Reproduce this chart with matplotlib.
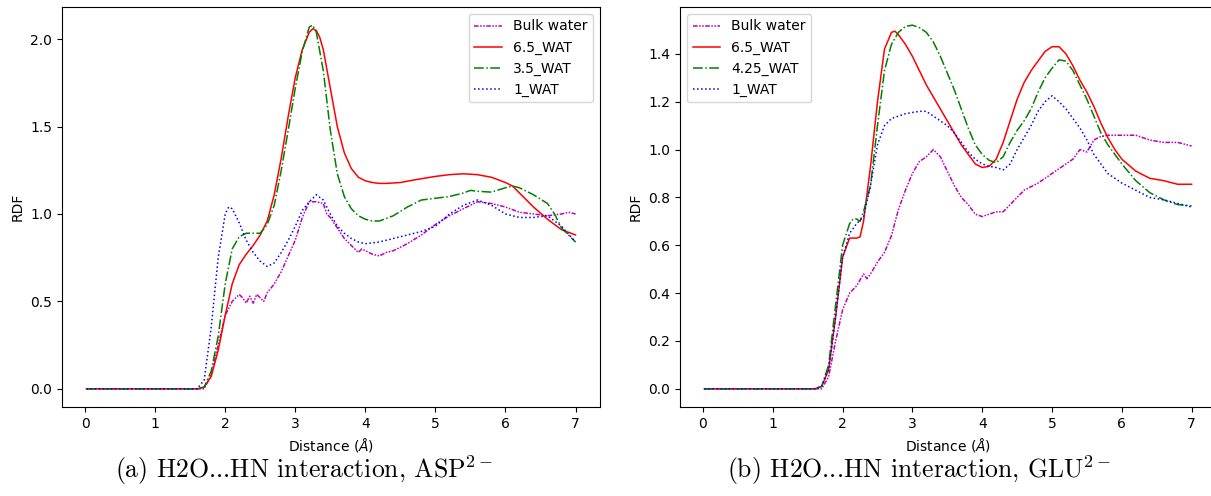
import matplotlib
matplotlib.use("Agg")
import matplotlib.pyplot as plt

plt.rcParams['mathtext.fontset'] = 'dejavusans'

# ---------------- Panel (a) ASP ----------------
a_bulk_x = [0.02, 1.6, 1.7, 1.8, 1.9, 2.0, 2.1, 2.2, 2.25, 2.3, 2.35, 2.4, 2.45, 2.5, 2.55, 2.6, 2.7, 2.8, 2.9,
            3.0, 3.1, 3.2, 3.3, 3.4, 3.45, 3.5, 3.6, 3.7, 3.8, 3.9, 3.95, 4.0, 4.1, 4.2, 4.3, 4.4, 4.6, 4.8,
            5.0, 5.2, 5.4, 5.6, 5.8, 6.0, 6.2, 6.4, 6.6, 6.8, 6.9, 7.0]
a_bulk_y = [0.0, 0.0, 0.0, 0.08, 0.25, 0.42, 0.50, 0.54, 0.52, 0.49, 0.53, 0.49, 0.54, 0.52, 0.50, 0.55, 0.60, 0.67, 0.76,
            0.85, 0.98, 1.07, 1.07, 1.06, 1.0, 0.98, 0.92, 0.86, 0.82, 0.78, 0.80, 0.79, 0.77, 0.76, 0.78, 0.79, 0.83, 0.88,
            0.94, 0.99, 1.03, 1.07, 1.06, 1.04, 1.01, 1.00, 0.99, 1.00, 1.01, 1.00]

a_red_x = [0.02, 1.6, 1.7, 1.8, 1.9, 2.0, 2.1, 2.2, 2.3, 2.4, 2.5, 2.6, 2.7, 2.8, 2.9, 3.0, 3.1, 3.2, 3.25, 3.3,
           3.35, 3.4, 3.5, 3.6, 3.7, 3.8, 3.9, 4.0, 4.1, 4.2, 4.3, 4.5, 4.7, 5.0, 5.2, 5.4, 5.6, 5.8, 6.0, 6.1,
           6.2, 6.4, 6.6, 6.8, 7.0]
a_red_y = [0.0, 0.0, 0.01, 0.07, 0.22, 0.42, 0.60, 0.71, 0.77, 0.82, 0.88, 0.96, 1.11, 1.32, 1.56, 1.78, 1.94, 2.04, 2.06, 2.05,
           2.01, 1.94, 1.72, 1.50, 1.35, 1.26, 1.21, 1.19, 1.18, 1.175, 1.175, 1.18, 1.195, 1.215, 1.225, 1.23, 1.225, 1.21, 1.18, 1.16,
           1.12, 1.04, 0.97, 0.91, 0.88]

a_green_x = [0.02, 1.6, 1.7, 1.8, 1.9, 2.0, 2.1, 2.2, 2.3, 2.4, 2.5, 2.6, 2.7, 2.8, 2.9, 3.0, 3.1, 3.2, 3.25, 3.3,
             3.4, 3.5, 3.6, 3.7, 3.8, 3.9, 4.0, 4.1, 4.2, 4.4, 4.6, 4.8, 5.0, 5.2, 5.4, 5.5, 5.6, 5.8, 6.0, 6.1,
             6.2, 6.4, 6.6, 6.7, 6.8, 7.0]
a_green_y = [0.0, 0.0, 0.01, 0.10, 0.30, 0.60, 0.80, 0.87, 0.89, 0.89, 0.89, 0.94, 1.05, 1.25, 1.48, 1.72, 1.93, 2.07, 2.08, 2.04,
             1.82, 1.48, 1.23, 1.10, 1.03, 0.99, 0.97, 0.96, 0.96, 0.99, 1.04, 1.08, 1.09, 1.10, 1.12, 1.135, 1.13, 1.125, 1.15, 1.16,
             1.15, 1.11, 1.06, 1.00, 0.92, 0.84]

a_blue_x = [0.02, 1.6, 1.7, 1.8, 1.9, 2.0, 2.05, 2.1, 2.2, 2.3, 2.4, 2.5, 2.6, 2.7, 2.8, 2.9, 3.0, 3.1, 3.2, 3.3,
            3.4, 3.5, 3.6, 3.7, 3.8, 3.9, 4.0, 4.2, 4.4, 4.6, 4.8, 5.0, 5.2, 5.4, 5.6, 5.8, 6.0, 6.2, 6.4, 6.6,
            6.8, 7.0]
a_blue_y = [0.0, 0.0, 0.05, 0.35, 0.75, 1.00, 1.04, 1.03, 0.95, 0.85, 0.78, 0.73, 0.70, 0.72, 0.78, 0.85, 0.93, 1.02, 1.07, 1.11,
            1.08, 1.00, 0.93, 0.89, 0.86, 0.84, 0.83, 0.84, 0.86, 0.88, 0.90, 0.93, 1.00, 1.05, 1.08, 1.05, 1.00, 0.98, 0.98, 0.99,
            0.93, 0.84]

# ---------------- Panel (b) GLU ----------------
b_bulk_x = [0.02, 1.6, 1.7, 1.8, 1.9, 2.0, 2.1, 2.2, 2.3, 2.35, 2.4, 2.5, 2.6, 2.7, 2.8, 2.9, 3.0, 3.1, 3.2, 3.3,
            3.4, 3.5, 3.6, 3.7, 3.8, 3.9, 4.0, 4.1, 4.2, 4.3, 4.4, 4.5, 4.6, 4.8, 5.0, 5.2, 5.3, 5.4, 5.5, 5.6,
            5.7, 5.8, 6.0, 6.2, 6.4, 6.6, 6.8, 7.0]
b_bulk_y = [0.0, 0.0, 0.0, 0.05, 0.20, 0.33, 0.40, 0.43, 0.48, 0.46, 0.48, 0.53, 0.57, 0.64, 0.75, 0.83, 0.90, 0.95, 0.97, 1.00,
            0.97, 0.91, 0.85, 0.80, 0.77, 0.73, 0.72, 0.73, 0.74, 0.74, 0.77, 0.80, 0.83, 0.86, 0.90, 0.94, 0.96, 1.00, 0.99, 1.04,
            1.055, 1.06, 1.06, 1.06, 1.04, 1.03, 1.03, 1.015]

b_red_x = [0.02, 1.6, 1.7, 1.8, 1.9, 2.0, 2.1, 2.2, 2.25, 2.3, 2.4, 2.5, 2.6, 2.7, 2.75, 2.8, 2.9, 3.0, 3.1, 3.2,
           3.3, 3.4, 3.5, 3.6, 3.7, 3.8, 3.9, 4.0, 4.1, 4.2, 4.3, 4.4, 4.5, 4.6, 4.7, 4.8, 4.9, 5.0, 5.1, 5.2,
           5.3, 5.4, 5.5, 5.6, 5.7, 5.8, 5.9, 6.0, 6.2, 6.4, 6.6, 6.8, 7.0]
b_red_y = [0.0, 0.0, 0.01, 0.08, 0.30, 0.55, 0.63, 0.63, 0.635, 0.70, 0.93, 1.20, 1.42, 1.49, 1.495, 1.48, 1.44, 1.39, 1.33, 1.27,
           1.22, 1.17, 1.12, 1.07, 1.02, 0.98, 0.94, 0.925, 0.93, 0.96, 1.03, 1.12, 1.21, 1.28, 1.33, 1.37, 1.41, 1.43, 1.43, 1.40,
           1.35, 1.29, 1.24, 1.18, 1.11, 1.05, 1.00, 0.96, 0.91, 0.88, 0.87, 0.855, 0.855]

b_green_x = [0.02, 1.6, 1.7, 1.8, 1.9, 2.0, 2.1, 2.15, 2.2, 2.25, 2.3, 2.4, 2.5, 2.6, 2.7, 2.8, 2.9, 3.0, 3.1, 3.2,
             3.3, 3.4, 3.5, 3.6, 3.7, 3.8, 3.9, 4.0, 4.1, 4.2, 4.3, 4.4, 4.5, 4.6, 4.7, 4.8, 4.9, 5.0, 5.1, 5.2,
             5.3, 5.4, 5.5, 5.6, 5.7, 5.8, 5.9, 6.0, 6.2, 6.4, 6.6, 6.8, 7.0]
b_green_y = [0.0, 0.0, 0.01, 0.10, 0.35, 0.60, 0.69, 0.71, 0.71, 0.70, 0.74, 0.85, 1.10, 1.33, 1.44, 1.49, 1.515, 1.52, 1.51, 1.49,
             1.45, 1.39, 1.32, 1.25, 1.17, 1.09, 1.02, 0.98, 0.955, 0.945, 0.97, 1.03, 1.08, 1.12, 1.17, 1.24, 1.30, 1.34, 1.375, 1.37,
             1.33, 1.27, 1.21, 1.14, 1.07, 1.02, 0.98, 0.94, 0.87, 0.82, 0.79, 0.77, 0.765]

b_blue_x = [0.02, 1.6, 1.7, 1.8, 1.9, 2.0, 2.1, 2.2, 2.3, 2.4, 2.5, 2.6, 2.7, 2.8, 2.9, 3.0, 3.1, 3.2, 3.3, 3.4,
            3.5, 3.6, 3.7, 3.8, 3.9, 4.0, 4.1, 4.2, 4.3, 4.4, 4.5, 4.6, 4.7, 4.8, 4.9, 5.0, 5.1, 5.2, 5.3, 5.4,
            5.5, 5.6, 5.7, 5.8, 5.9, 6.0, 6.2, 6.4, 6.6, 6.8, 7.0]
b_blue_y = [0.0, 0.0, 0.01, 0.08, 0.30, 0.55, 0.65, 0.69, 0.72, 0.85, 1.02, 1.10, 1.13, 1.14, 1.15, 1.155, 1.16, 1.16, 1.14, 1.12,
            1.10, 1.07, 1.03, 0.99, 0.96, 0.94, 0.93, 0.925, 0.915, 0.94, 1.00, 1.05, 1.10, 1.16, 1.20, 1.225, 1.20, 1.17, 1.13, 1.09,
            1.04, 0.98, 0.94, 0.90, 0.88, 0.86, 0.83, 0.80, 0.79, 0.775, 0.76]

labels_a = ["Bulk water", "6.5_WAT", "3.5_WAT", "1_WAT"]
labels_b = ["Bulk water", "6.5_WAT", "4.25_WAT", "1_WAT"]
caption_a = "(a) H2O...HN interaction, ASP$^{2-}$"
caption_b = "(b) H2O...HN interaction, GLU$^{2-}$"

W, H = 1211, 496
fig = plt.figure(figsize=(W / 100, H / 100), dpi=100)
ax1 = fig.add_axes([62 / W, 1 - 407 / H, (600 - 62) / W, (407 - 7) / H])
ax2 = fig.add_axes([680 / W, 1 - 407 / H, (1216 - 680) / W, (407 - 7) / H])

lw = 1.1
bulk_dash = (0, (3, 1, 1, 1, 1, 1))


def draw(ax, data, labels, loc):
    (bx, by), (rx, ry), (gx, gy), (ux, uy) = data
    ax.plot(bx, by, color='m', linestyle=bulk_dash, lw=lw, label=labels[0])
    ax.plot(rx, ry, color='r', linestyle='-', lw=lw, label=labels[1])
    ax.plot(gx, gy, color='g', linestyle='-.', lw=lw, label=labels[2])
    ax.plot(ux, uy, color='b', linestyle=':', lw=lw, label=labels[3])
    ax.set_xlabel(r"Distance ($\AA$)")
    ax.set_ylabel("RDF")
    ax.set_xticks(range(0, 8))
    ax.legend(loc=loc, fontsize=10)


draw(ax1, [(a_bulk_x, a_bulk_y), (a_red_x, a_red_y), (a_green_x, a_green_y), (a_blue_x, a_blue_y)],
     labels_a, 'upper right')
draw(ax2, [(b_bulk_x, b_bulk_y), (b_red_x, b_red_y), (b_green_x, b_green_y), (b_blue_x, b_blue_y)],
     labels_b, 'upper left')

for xc, cap in ((304, caption_a), (919, caption_b)):
    fig.text(xc / W, 1 - 470 / H, cap, ha='center', va='center', fontsize=18.5,
             family='cmr10', math_fontfamily='cm')

fig.savefig("out.png", dpi=100)
